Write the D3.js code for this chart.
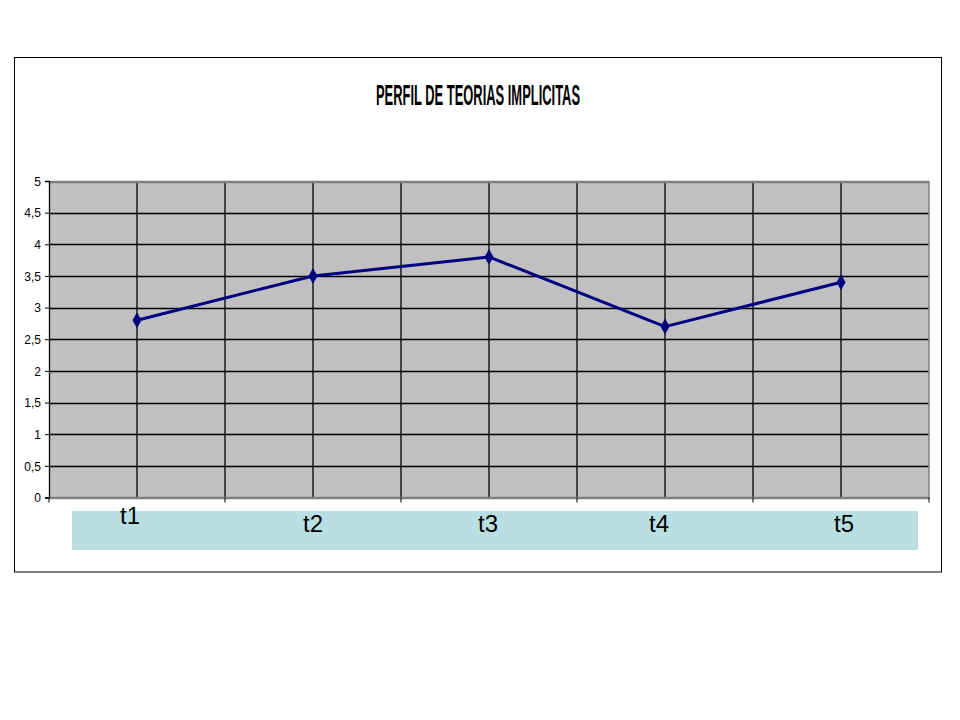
<!DOCTYPE html>
<html><head><meta charset="utf-8">
<script src="https://cdn.jsdelivr.net/npm/d3@7"></script>
<style>body{margin:0;background:#fff}svg{display:block}</style>
</head><body>
<svg id="c" width="960" height="720"></svg>
<script>
const categories = ["t1","t2","t3","t4","t5"];
const values = [2.8, 3.5, 3.8, 2.7, 3.4];
const yTicks = [0,0.5,1,1.5,2,2.5,3,3.5,4,4.5,5];
const yTickLabels = ["0","0,5","1","1,5","2","2,5","3","3,5","4","4,5","5"];
const title = "PERFIL DE TEORIAS IMPLICITAS";

const svg = d3.select("#c");
const L=49, R=929, T=181, B=497.5;
const x = d3.scaleBand().domain(categories).range([L,R]);
const y = d3.scaleLinear().domain([0,5]).range([B,T]);
const cx = d => x(d) + x.bandwidth()/2;

// outer frame
svg.append("rect").attr("x",14.5).attr("y",57.5).attr("width",927).attr("height",514.5)
  .attr("fill","#fff").attr("stroke","#000").attr("stroke-width",1);

// title
svg.append("text").attr("x",478).attr("y",105).attr("text-anchor","middle")
  .attr("font-family","'Liberation Sans Narrow','Liberation Sans',Arial,sans-serif")
  .attr("font-weight","bold").attr("font-size",29)
  .attr("textLength",204).attr("lengthAdjust","spacingAndGlyphs")
  .text(title);

// plot area
svg.append("rect").attr("x",L).attr("y",T).attr("width",R-L).attr("height",B-T).attr("fill","#c0c0c0");

// horizontal gridlines
svg.append("g").selectAll("line").data(yTicks.slice(1,-1)).join("line")
  .attr("x1",L).attr("x2",R).attr("y1",d=>Math.round(y(d))+0.5).attr("y2",d=>Math.round(y(d))+0.5)
  .attr("stroke","#000").attr("stroke-width",1.3);

// vertical gridlines: band boundaries and centres
const vlines = [];
categories.forEach((c,i)=>{ vlines.push(cx(c)); if(i>0) vlines.push(x(c)); });
svg.append("g").selectAll("line").data(vlines).join("line")
  .attr("x1",d=>d).attr("x2",d=>d).attr("y1",T).attr("y2",B)
  .attr("stroke","#000").attr("stroke-width",1.3);

// plot border right/top gray
svg.append("line").attr("x1",L).attr("x2",R).attr("y1",T+1).attr("y2",T+1).attr("stroke","#808080").attr("stroke-width",2.5);
svg.append("line").attr("x1",R).attr("x2",R).attr("y1",T).attr("y2",B).attr("stroke","#808080").attr("stroke-width",1.5);

// y axis
const yAxis = d3.axisLeft(y).tickValues(yTicks).tickSize(4).tickFormat((d,i)=>yTickLabels[i]);
const ga = svg.append("g").attr("transform",`translate(${L},0)`).call(yAxis);
ga.select(".domain").attr("stroke","#000").attr("stroke-width",1.3);
ga.selectAll(".tick line").attr("stroke","#000");
ga.selectAll(".tick text").attr("font-family","'Liberation Sans Narrow','Liberation Sans',Arial,sans-serif")
  .attr("font-size",12).attr("fill","#000").attr("x",-8).attr("dy","0.35em");

// x axis
const xAxis = d3.axisBottom(x).tickSize(0).tickFormat("");
const gx = svg.append("g").attr("transform",`translate(0,${B})`).call(xAxis);
gx.select(".domain").attr("stroke","#808080").attr("stroke-width",2.5);
svg.append("g").selectAll("line").data(categories.concat(["end"])).join("line")
  .attr("x1",(d,i)=>L+i*x.bandwidth()).attr("x2",(d,i)=>L+i*x.bandwidth())
  .attr("y1",B).attr("y2",B+5).attr("stroke","#000").attr("stroke-width",1);

// label band
svg.append("rect").attr("x",72).attr("y",511).attr("width",846).attr("height",39).attr("fill","#b9dfe3");
const labelDx = [-7,0,-1,-6,3];
const labelY = [524,532,532,532,532];
svg.append("g").selectAll("text").data(categories).join("text")
  .attr("x",(d,i)=>cx(d)+labelDx[i]).attr("y",(d,i)=>labelY[i])
  .attr("text-anchor","middle").attr("font-family","'Liberation Sans',Arial,sans-serif")
  .attr("font-size",24).attr("fill","#000").text(d=>d);

// line
const line = d3.line().x((d,i)=>cx(categories[i])).y(d=>y(d));
svg.append("path").datum(values).attr("d",line).attr("fill","none")
  .attr("stroke","#000080").attr("stroke-width",3).attr("stroke-linejoin","round");

// markers (diamonds)
svg.append("g").selectAll("path").data(values).join("path")
  .attr("transform",(d,i)=>`translate(${cx(categories[i])},${y(d)})`)
  .attr("d","M0,-8L4.5,0L0,8L-4.5,0Z").attr("fill","#000080");
</script>
</body></html>
